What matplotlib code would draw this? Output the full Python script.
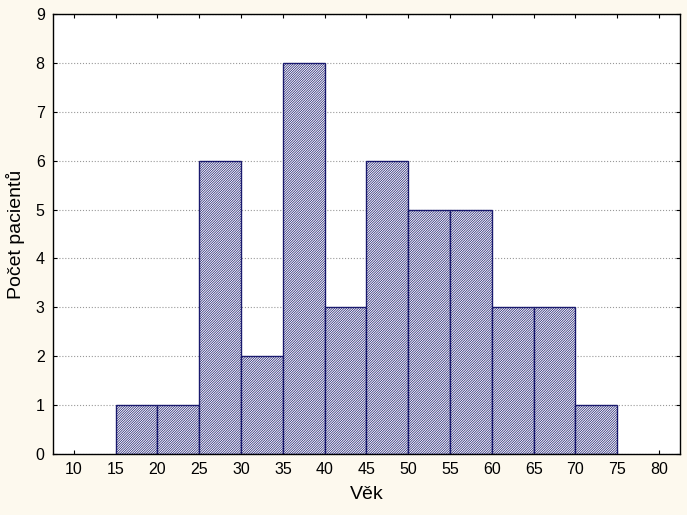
import matplotlib.pyplot as plt

# Věkové intervaly (levé hrany) a počty pacientů
leve_hrany = [15, 20, 25, 30, 35, 40, 45, 50, 55, 60, 65, 70]
pocty = [1, 1, 6, 2, 8, 3, 6, 5, 5, 3, 3, 1]
sirka = 5

plt.rcParams['font.family'] = ['Liberation Sans', 'DejaVu Sans']
plt.rcParams['hatch.color'] = '#1a1a6e'
plt.rcParams['hatch.linewidth'] = 0.5

fig = plt.figure(figsize=(6.87, 5.15), dpi=100, facecolor='#fdf9ee')
ax = fig.add_axes([0.0771, 0.1184, 0.9127, 0.8544])
ax.set_facecolor('white')

ax.bar(leve_hrany, pocty, width=sirka, align='edge', color='white',
       edgecolor='#1a1a6e', linewidth=1.0, hatch='/' * 14, zorder=2)

ax.set_xlim(7.5, 82.5)
ax.set_ylim(0, 9)
ax.set_xticks(range(10, 81, 5))
ax.set_yticks(range(0, 10))
ax.grid(axis='y', linestyle=':', color='#999999', linewidth=0.8, zorder=0)

ax.tick_params(direction='in', length=3, width=0.8, top=True, right=True,
               labelsize=11.5, colors='black', pad=6)
for s in ax.spines.values():
    s.set_linewidth(1.0)

ax.set_xlabel('Věk', fontsize=14, labelpad=6)
ax.set_ylabel('Počet pacientů', fontsize=14, labelpad=8)

plt.savefig('out.png', dpi=100, facecolor=fig.get_facecolor())
